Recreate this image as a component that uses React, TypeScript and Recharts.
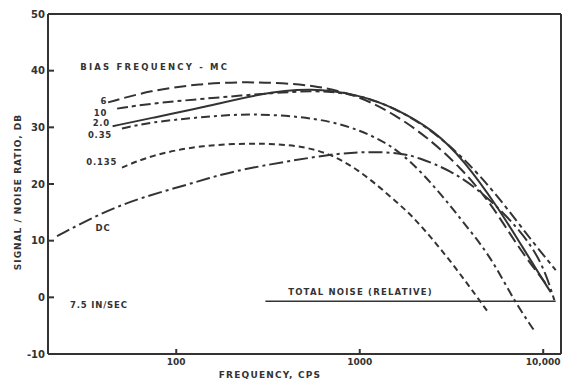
import React from "react";
import {
  LineChart,
  Line,
  XAxis,
  YAxis,
  ReferenceLine,
  ReferenceDot,
} from "recharts";

const INK = "#333";
const FONT = "'DejaVu Sans', sans-serif";

// frequency (cps) / signal-to-noise (db) for each bias frequency
const freq6 = [42.5, 72, 135, 254, 589, 1010, 1530, 2350, 3550, 5200, 7300, 10400];
const db6 = [34.4, 36.5, 37.7, 38.1, 37.5, 35.4, 32.4, 28.2, 22.9, 16.6, 8.8, 2.3];

const freq10 = [47.6, 72, 135, 370, 700, 1300, 2450, 4040, 5900, 8600, 11700];
const db10 = [33.3, 34.2, 35.0, 36.2, 36.6, 34.8, 29.8, 23.3, 17.1, 10.1, 4.8];

const freq2 = [45, 72, 135, 290, 540, 1010, 1530, 2540, 3700, 5660, 7600, 10400, 11000];
const db2 = [30.2, 31.6, 33.4, 36.0, 37.0, 35.7, 33.5, 29.5, 24.2, 15.9, 9.2, 2.1, 0.9];

const freq035 = [50.6, 72, 135, 254, 589, 1010, 1670, 2670, 3700, 5200, 6900, 8900];
const db035 = [29.8, 30.9, 31.8, 32.5, 31.7, 29.6, 26.0, 18.9, 13.1, 7.1, -0.5, -5.8];

const freq0135 = [50.6, 72, 135, 314, 589, 970, 1670, 1970, 3030, 5000];
const db0135 = [22.9, 25.0, 26.9, 27.3, 26.4, 22.9, 16.2, 14.1, 7.1, -2.6];

const freqDC = [22.4, 38.5, 63.6, 135, 205, 720, 1100, 1670, 2070, 3150, 4760, 7300, 9800, 11500];
const dbDC = [10.8, 14.8, 17.6, 20.5, 22.4, 25.4, 25.7, 25.5, 24.7, 22.4, 18.3, 12.3, 6.5, -0.5];

const noiseFreq = [306, 11700];
const noiseDb = [-0.7, -0.7];

const xTicks = [100, 1000, 10000];
const xTickLabels = ["100", "1000", "10,000"];
const yTicks = [-10, 0, 10, 20, 30, 40, 50];

const X_MIN = 20;
const X_MAX = 12500;

const zip = (f: number[], v: number[]) => f.map((x, i) => ({ f: x, v: v[i] }));

const series = [
  { name: "6", data: zip(freq6, db6), dash: "12 5" },
  { name: "10", data: zip(freq10, db10), dash: "11 4 4 4" },
  { name: "2.0", data: zip(freq2, db2), dash: undefined },
  { name: "0.35", data: zip(freq035, db035), dash: "9 4 3 4" },
  { name: "0.135", data: zip(freq0135, db0135), dash: "6 4" },
  { name: "DC", data: zip(freqDC, dbDC), dash: "14 4 3 4" },
];

// annotation text: [text, freq, db, anchor, letter spacing]
const notes: [string, number, number, "start" | "middle" | "end", number][] = [
  ["BIAS  FREQUENCY  -  MC", 30, 40.6, "start", 2.2],
  ["6", 42, 34.6, "end", 0.8],
  ["10", 42, 32.6, "end", 0.8],
  ["2.0", 43.6, 30.7, "end", 0.8],
  ["0.35", 44.7, 28.7, "end", 0.8],
  ["0.135", 47.6, 23.8, "end", 0.8],
  ["DC", 39.9, 12.3, "middle", 0.8],
  ["7.5 IN/SEC", 26.4, -1.4, "start", 0.8],
  ["TOTAL  NOISE  (RELATIVE)", 1010, 0.9, "middle", 1.2],
];

function noteLabel(text: string, anchor: string, spacing: number) {
  return (props: any) => {
    const vb = props.viewBox || {};
    return (
      <text
        x={vb.x}
        y={vb.y}
        textAnchor={anchor}
        dominantBaseline="central"
        fill={INK}
        fontFamily={FONT}
        fontWeight="bold"
        fontSize={8.5}
        letterSpacing={spacing}
      >
        {text}
      </text>
    );
  };
}

export default function App() {
  return (
    <div style={{ position: "absolute", left: 0, top: 0, background: "#fff" }}>
      <LineChart width={563} height={381} margin={{ top: 14, right: 2, left: 0, bottom: 0 }}>
        <XAxis
          dataKey="f"
          type="number"
          scale="log"
          domain={[X_MIN, X_MAX]}
          allowDataOverflow
          ticks={xTicks}
          tickFormatter={(v: number) => xTickLabels[xTicks.indexOf(v)] ?? String(v)}
          height={27}
          tickSize={-5}
          tickMargin={10}
          stroke={INK}
          strokeWidth={2}
          tick={{ fill: INK, fontFamily: FONT, fontWeight: "bold", fontSize: 9 }}
          label={{
            content: () => (
              <text
                x={270}
                y={375}
                textAnchor="middle"
                dominantBaseline="central"
                fill={INK}
                fontFamily={FONT}
                fontWeight="bold"
                fontSize={9}
                letterSpacing={1.2}
              >
                FREQUENCY, CPS
              </text>
            ),
          }}
        />
        <YAxis
          type="number"
          domain={[-10, 50]}
          ticks={yTicks}
          width={48}
          tickSize={-6}
          tickMargin={9}
          stroke={INK}
          strokeWidth={2}
          tick={{ fill: INK, fontFamily: FONT, fontWeight: "bold", fontSize: 10 }}
          label={{
            content: () => (
              <text
                x={18}
                y={192}
                transform="rotate(-90 18 192)"
                textAnchor="middle"
                dominantBaseline="central"
                fill={INK}
                fontFamily={FONT}
                fontWeight="bold"
                fontSize={9}
                letterSpacing={1}
              >
                SIGNAL / NOISE RATIO, DB
              </text>
            ),
          }}
        />
        <ReferenceLine y={50} stroke={INK} strokeWidth={2} />
        <ReferenceLine x={X_MAX} stroke={INK} strokeWidth={2} />
        {series.map((s) => (
          <Line
            key={s.name}
            data={s.data}
            dataKey="v"
            type="basis"
            stroke={INK}
            strokeWidth={2}
            strokeDasharray={s.dash}
            dot={false}
            isAnimationActive={false}
          />
        ))}
        <Line
          data={zip(noiseFreq, noiseDb)}
          dataKey="v"
          type="linear"
          stroke={INK}
          strokeWidth={1.6}
          dot={false}
          isAnimationActive={false}
        />
        {notes.map(([text, f, db, anchor, spacing]) => (
          <ReferenceDot
            key={text}
            x={f}
            y={db}
            r={0}
            stroke="none"
            fill="none"
            label={{ content: noteLabel(text, anchor, spacing) }}
          />
        ))}
      </LineChart>
    </div>
  );
}
